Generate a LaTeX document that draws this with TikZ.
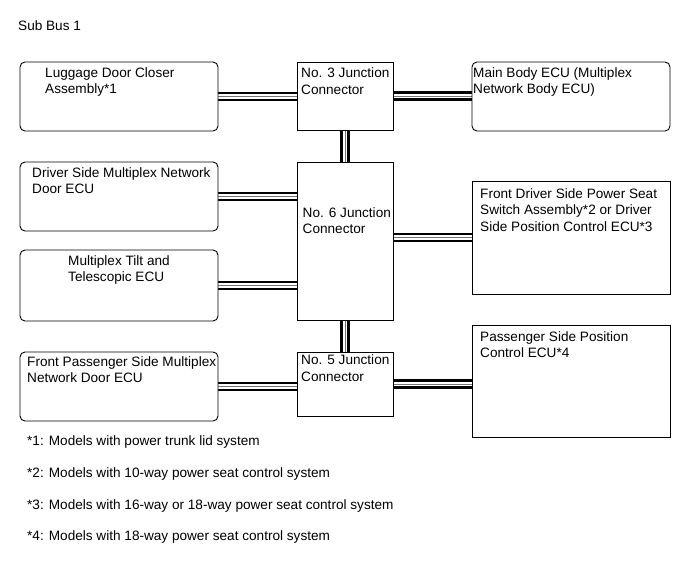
\documentclass[tikz,border=0pt]{standalone}
\usepackage{fontspec}
\setmainfont{Liberation Sans}
\usetikzlibrary{backgrounds}
\tikzset{
  ecu/.style={draw, line width=0.9pt, rounded corners=5pt, fill=white, inner sep=0pt},
  jbox/.style={draw, line width=0.9pt, fill=white, inner sep=0pt},
  txt/.style={anchor=base west, inner sep=0pt, align=left, font=\fontsize{13.6}{16.3}\selectfont},
  bus/.style={line width=9.4pt, draw=black,
    postaction={draw=white, line width=4.4pt},
    postaction={draw=black!55, line width=0.8pt}}
}
\begin{document}
\begin{tikzpicture}[x=1pt, y=-1pt]
  \useasboundingbox (0,0) rectangle (690,562);
  \node[txt] (title) at (18,30.5) {Sub Bus 1};
  % Left-hand ECUs (text nodes sit on the baseline of their last line)
  \node[ecu, minimum width=198pt, minimum height=69pt] (lug) at (119,96.5) {};
  \node[txt] (lugtxt) at (45,93.8) {Luggage Door Closer\\Assembly*1};
  \node[ecu, minimum width=198pt, minimum height=69pt] (drv) at (119,196.5) {};
  \node[txt] (drvtxt) at (32,193.8) {Driver Side Multiplex Network\\Door ECU};
  \node[ecu, minimum width=198pt, minimum height=71pt] (tilt) at (119,285.5) {};
  \node[txt] (tilttxt) at (68,281.8) {Multiplex Tilt and\\Telescopic ECU};
  \node[ecu, minimum width=198pt, minimum height=69pt] (fpas) at (119,386.5) {};
  \node[txt] (fpastxt) at (27,382.3) {Front Passenger Side Multiplex\\Network Door ECU};
  % Junction connectors
  \node[jbox, minimum width=96pt, minimum height=68pt] (j3) at (345,96) {};
  \node[txt] (j3txt) at (301,94) {No. 3 Junction\\Connector};
  \node[jbox, minimum width=96pt, minimum height=158pt] (j6) at (345,241) {};
  \node[txt] (j6txt) at (302.5,233.5) {No. 6 Junction\\Connector};
  \node[jbox, minimum width=96pt, minimum height=64pt] (j5) at (345,384) {};
  \node[txt] (j5txt) at (301,381) {No. 5 Junction\\Connector};
  % Right-hand ECUs
  \node[ecu, minimum width=198pt, minimum height=69pt] (body) at (571,96.5) {};
  \node[txt] (bodytxt) at (473,93.8) {Main Body ECU (Multiplex\\Network Body ECU)};
  \node[jbox, minimum width=198pt, minimum height=113pt] (fdrv) at (571,237.5) {};
  \node[txt] (fdrvtxt) at (480,231) {Front Driver Side Power Seat\\Switch Assembly*2 or Driver\\Side Position Control ECU*3};
  \node[jbox, minimum width=198pt, minimum height=112pt] (pas) at (571,381) {};
  \node[txt] (pastxt) at (480,357.3) {Passenger Side Position\\Control ECU*4};
  % Bus lines
  \begin{scope}[on background layer]
    \draw[bus] (lug.east) -- (j3.west |- lug.east);
    \draw[bus] (j3.east) -- (body.west |- j3.east);
    \draw[bus] (j3.south) -- (j6.north);
    \draw[bus] (drv.east) -- (j6.west |- drv.east);
    \draw[bus] (tilt.east) -- (j6.west |- tilt.east);
    \draw[bus] (j6.east |- fdrv.west) -- (fdrv.west);
    \draw[bus] (j6.south) -- (j5.north);
    \draw[bus] (fpas.east) -- (j5.west |- fpas.east);
    \draw[bus] (j5.east) -- (pas.west |- j5.east);
  \end{scope}
  % Notes
  \node[txt] (note1) at (27,445) {*1: Models with power trunk lid system};
  \node[txt] (note2) at (27,477) {*2: Models with 10-way power seat control system};
  \node[txt] (note3) at (27,509) {*3: Models with 16-way or 18-way power seat control system};
  \node[txt] (note4) at (27,540.7) {*4: Models with 18-way power seat control system};
\end{tikzpicture}
\end{document}
